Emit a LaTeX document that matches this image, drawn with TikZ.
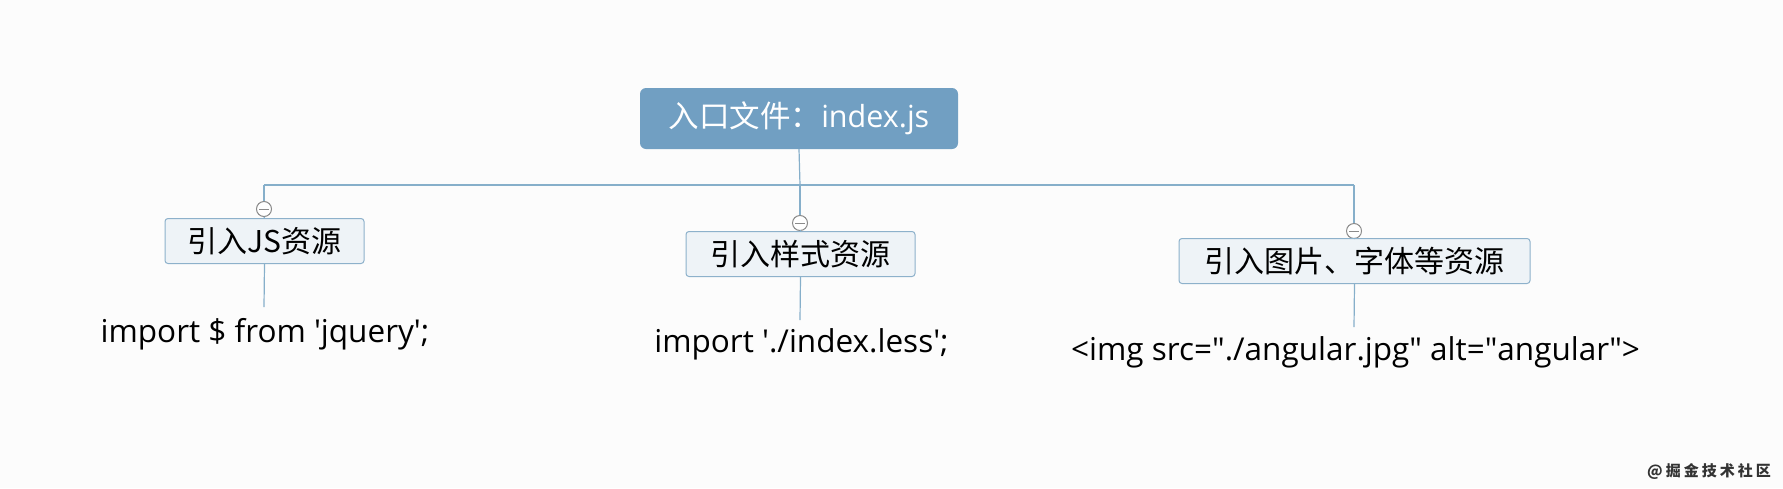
\documentclass[tikz,border=0pt]{standalone}
\usepackage{fontspec}
\setmainfont{Open Sans}
\newfontfamily\cjk{Noto Sans CJK SC}
\definecolor{rootblue}{HTML}{719FC2}
\definecolor{linecol}{HTML}{86AFCA}
\definecolor{boxfill}{HTML}{EEF3F7}
\definecolor{boxborder}{HTML}{8DB1CB}
\definecolor{bgcol}{HTML}{FCFCFC}
\definecolor{togglecol}{HTML}{8A8A8A}
\newcommand{\sq}{\textquotesingle}
\newcommand{\dq}{\textquotedbl}
\newcommand{\wk}{\kern3pt}
\tikzset{
  rootbox/.style={rectangle, rounded corners=6pt, fill=rootblue, text=white,
    minimum width=318pt, minimum height=61pt, inner sep=0pt,
    font=\fontsize{30.5}{34}\selectfont},
  childbox/.style={rectangle, rounded corners=3pt, draw=boxborder, fill=boxfill,
    line width=1pt, minimum height=45pt, inner sep=0pt,
    font=\fontsize{30}{34}\selectfont},
  codetext/.style={anchor=base, inner sep=0pt, font=\fontsize{31.5}{35}\selectfont, text=black},
  toggle/.style={circle, draw=togglecol, fill=white, minimum size=15pt, inner sep=0pt,
    line width=1pt,
    path picture={\draw[togglecol, line width=1pt]
      ([xshift=-5pt]path picture bounding box.center) --
      ([xshift=5pt]path picture bounding box.center);}},
  conn/.style={draw=linecol, line width=1.2pt},
  mark wm/.style={inner sep=0pt, font=\cjk\bfseries\fontsize{15}{17}\selectfont, text=black!80}
}
\begin{document}
\begin{tikzpicture}[x=1pt, y=-1pt]
  \fill[bgcol] (0,0) rectangle (1783,488);
  \useasboundingbox (0,0) rectangle (1783,488);

  % root
  \node[rootbox] (root) at (799,118.5) {{\cjk 入口文件：}index.js};

  % bus coordinates
  \coordinate (hl) at (264,185);
  \coordinate (hm) at (800,185);
  \coordinate (hr) at (1354,185);

  % toggles
  \node[toggle] (t1) at (264,209) {};
  \node[toggle] (t2) at (800,223) {};
  \node[toggle] (t3) at (1354,231) {};

  % child boxes
  \node[childbox, minimum width=199pt] (c1) at (264.5,241) {\cjk 引入JS资源};
  \node[childbox, minimum width=229pt] (c2) at (800.5,254) {\cjk 引入样式资源};
  \node[childbox, minimum width=351pt] (c3) at (1354.5,261) {\cjk 引入图片、字体等资源};

  % code texts
  \node[codetext] (k1) at (265,342) {import \$ from \sq jquery\sq;};
  \node[codetext] (k2) at (801.5,352) {import \sq./index.less\sq;};
  \node[codetext] (k3) at (1355.5,360) {<img src=\dq./angular.jpg\dq\ alt=\dq angular\dq>};

  \coordinate (e1) at (264,307);
  \coordinate (e2) at (800,320);
  \coordinate (e3) at (1354,327);

  % connectors
  \draw[conn] (root.south) -- (hm);
  \draw[conn] (hl) -- (hr);
  \draw[conn] (hl) -- (t1.north);
  \draw[conn] (hm) -- (t2.north);
  \draw[conn] (hr) -- (t3.north);
  \draw[conn] (t1.south) -- (c1.north);
  \draw[conn] (t2.south) -- (c2.north);
  \draw[conn] (t3.south) -- (c3.north);
  \draw[conn] (c1.south) -- (e1);
  \draw[conn] (c2.south) -- (e2);
  \draw[conn] (c3.south) -- (e3);

  % watermark
  \node[mark wm, anchor=west] (wm) at (1647,471.5) {@\wk 掘\wk 金\wk 技\wk 术\wk 社\wk 区};
\end{tikzpicture}
\end{document}
